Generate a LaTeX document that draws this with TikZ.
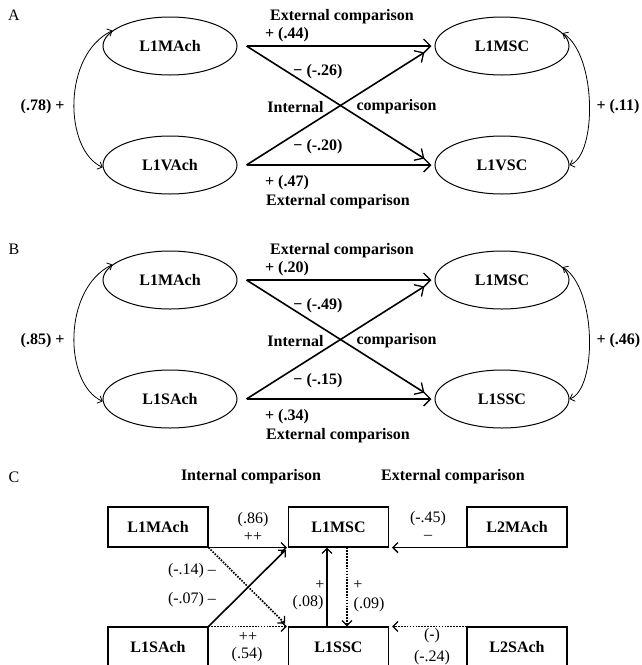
\documentclass[tikz,border=0pt]{standalone}
\usepackage{fontspec}
\setmainfont{Liberation Serif}
\usetikzlibrary{arrows.meta,calc,shapes.geometric}
\begin{document}
\begin{tikzpicture}[x=1pt,y=-1pt,
  every node/.style={font=\fontsize{16}{19}\selectfont},
  bl/.style={font=\fontsize{16}{19}\selectfont\bfseries},
  ell/.style={draw, ellipse, minimum width=134pt, minimum height=58pt, inner sep=0pt, line width=1pt, font=\fontsize{16}{19}\selectfont\bfseries},
  cbox/.style={draw, rectangle, minimum width=100pt, minimum height=40pt, inner sep=0pt, line width=1.1pt, font=\fontsize{16}{19}\selectfont\bfseries},
  arr/.style={-{Straight Barb[length=7pt,width=14pt,line width=1.3pt]}, line width=1.6pt},
  dbl/.style={{Straight Barb[length=4pt,width=8pt,line width=0.8pt]}-{Straight Barb[length=4pt,width=8pt,line width=0.8pt]}, line width=0.8pt},
  carr/.style={-{Straight Barb[length=5pt,width=10pt,line width=1.3pt]}, line width=1.6pt},
  cdot/.style={carr, line width=1.7pt, dash pattern=on 1.6pt off 1.3pt},
  sm/.style={inner sep=0.5pt}
]
\fill[white] (0,0) rectangle (642,665);
\useasboundingbox (0,0) rectangle (642,665);

% ---------- Panel A ----------
\node (la) at (14,15) {A};
\node[ell] (ma) at (170,46) {L1MAch};
\node[ell] (va) at (170,165) {L1VAch};
\node[ell] (msc) at (502,46) {L1MSC};
\node[ell] (vsc) at (502,165) {L1VSC};
\coordinate (s1) at ([xshift=9pt]ma.east);
\coordinate (s2) at ([xshift=9pt]va.east);
\draw[arr] (s1) -- ([xshift=-3pt]msc.west);
\draw[arr, shorten >=12pt] (s1) -- (vsc.west);
\draw[arr] (s2) -- ([xshift=-3pt]vsc.west);
\draw[arr, shorten >=12pt] (s2) -- (msc.west);
\draw[dbl] (ma.165) .. controls (62,55) and (64,150) .. (va.182);
\draw[dbl] (msc.12) .. controls (597,55) and (597,155) .. (vsc.0);
\node[bl] (a1) at (342,17) {External comparison};
\node[bl] (a2) at (287,35) {+ (.44)};
\node[bl] (a3) at (318,72) {− (-.26)};
\node[bl, anchor=east] (a4) at (327,107) {Internal};
\node[bl, anchor=west] (a5) at (353,107) {comparison};
\node[bl] (a6) at (318,147) {− (-.20)};
\node[bl] (a7) at (287,183) {+ (.47)};
\node[bl] (a8) at (338,202) {External comparison};
\node[bl, anchor=east] (a9) at (68,107) {(.78) +};
\node[bl, anchor=west] (a10) at (593,107) {+ (.11)};

% ---------- Panel B ----------
\begin{scope}[shift={(0,234)}]
\node (lb) at (14,15) {B};
\node[ell] (bma) at (170,46) {L1MAch};
\node[ell] (bsa) at (170,165) {L1SAch};
\node[ell] (bmsc) at (502,46) {L1MSC};
\node[ell] (bssc) at (502,165) {L1SSC};
\coordinate (t1) at ([xshift=9pt]bma.east);
\coordinate (t2) at ([xshift=9pt]bsa.east);
\draw[arr] (t1) -- ([xshift=-3pt]bmsc.west);
\draw[arr, shorten >=12pt] (t1) -- (bssc.west);
\draw[arr] (t2) -- ([xshift=-3pt]bssc.west);
\draw[arr, shorten >=12pt] (t2) -- (bmsc.west);
\draw[dbl] (bma.165) .. controls (62,55) and (64,150) .. (bsa.182);
\draw[dbl] (bmsc.12) .. controls (597,55) and (597,155) .. (bssc.0);
\node[bl] (b1) at (342,17) {External comparison};
\node[bl] (b2) at (287,35) {+ (.20)};
\node[bl] (b3) at (318,72) {− (-.49)};
\node[bl, anchor=east] (b4) at (327,107) {Internal};
\node[bl, anchor=west] (b5) at (353,107) {comparison};
\node[bl] (b6) at (318,147) {− (-.15)};
\node[bl] (b7) at (287,183) {+ (.34)};
\node[bl] (b8) at (338,202) {External comparison};
\node[bl, anchor=east] (b9) at (68,107) {(.85) +};
\node[bl, anchor=west] (b10) at (593,107) {+ (.46)};
\end{scope}

% ---------- Panel C ----------
\node (lc) at (14,477) {C};
\node[bl] (c1) at (251,477) {Internal comparison};
\node[bl] (c2) at (453,477) {External comparison};
\node[cbox] (cma) at (158,527) {L1MAch};
\node[cbox] (cmsc) at (338.5,527) {L1MSC};
\node[cbox] (c2ma) at (517,527) {L2MAch};
\node[cbox] (csa) at (158,647) {L1SAch};
\node[cbox] (cssc) at (338.5,647) {L1SSC};
\node[cbox] (c2sa) at (517,647) {L2SAch};
\draw[carr] (cma.south east) -- ([xshift=-1pt]cmsc.south west);
\draw[cdot, shorten >=4pt] (cma.south east) -- (cssc.north west);
\draw[carr, shorten >=3pt] (csa.north east) -- (cmsc.south west);
\draw[cdot] (csa.north east) -- ([xshift=-1pt]cssc.north west);
\draw[carr] ([xshift=-11.5pt]cssc.north) -- ([xshift=-11.5pt]cmsc.south);
\draw[cdot] ([xshift=8.5pt]cmsc.south) -- ([xshift=8.5pt]cssc.north);
\draw[carr] (c2ma.south west) -- ([xshift=3pt]cmsc.south east);
\draw[cdot] (c2sa.north west) -- ([xshift=3pt]cssc.north east);
\node[sm] (d1) at (253,520) {(.86)};
\node[sm] (d2) at (253,537) {++};
\node[sm] (d3) at (428,519) {(-.45)};
\node[sm] (d4) at (428,537) {–};
\node[sm] (d5) at (192,571) {(-.14) –};
\node[sm] (d6) at (192,600) {(-.07) –};
\node[sm] (d7) at (320,585) {+};
\node[sm] (d8) at (308,603) {(.08)};
\node[sm] (d9) at (358,585) {+};
\node[sm] (d10) at (369,605) {(.09)};
\node[sm] (d11) at (248,637) {++};
\node[sm] (d12) at (247,655) {(.54)};
\node[sm] (d13) at (432,636) {(-)};
\node[sm] (d14) at (432,658) {(-.24)};
\end{tikzpicture}
\end{document}
